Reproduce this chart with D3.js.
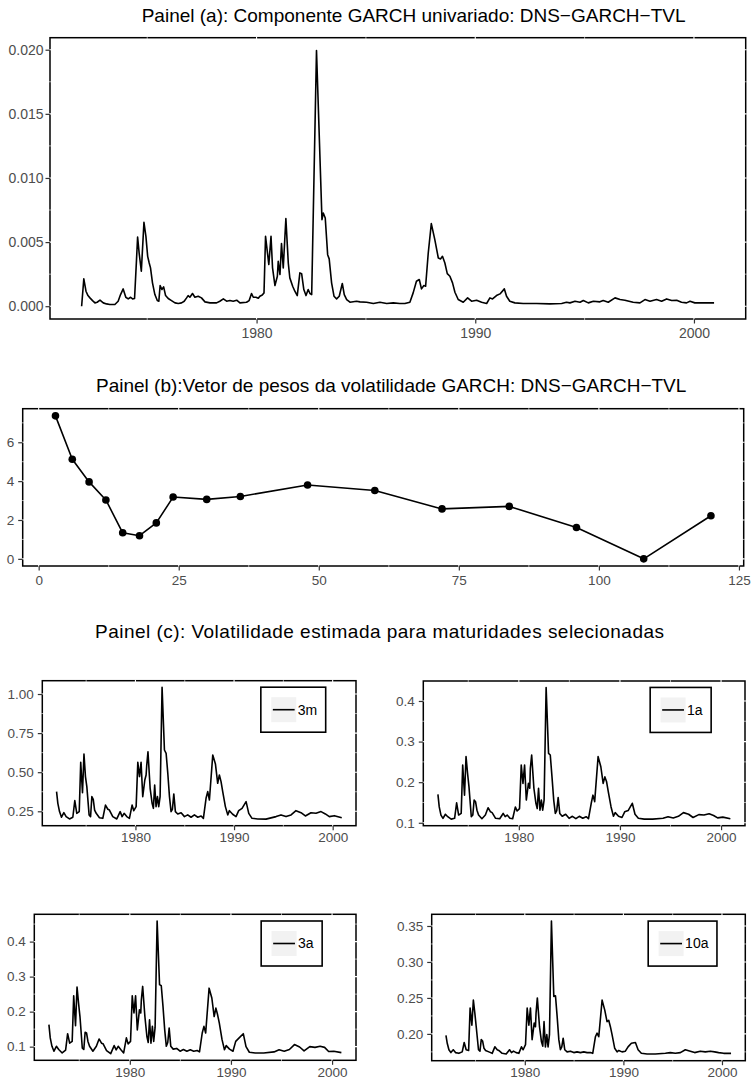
<!DOCTYPE html>
<html>
<head>
<meta charset="utf-8">
<script src="https://cdn.jsdelivr.net/npm/d3@7"></script>
<style>
  body { margin: 0; background: #fff; }
  svg { display: block; font-family: "Liberation Sans", Arial, Helvetica, sans-serif; }
</style>
</head>
<body>
<div id="chart"></div>
<script>
// painel (a): componente GARCH univariado, pares [ano, valor]
const garchComponent = [
  [1972.00, 0.0000], [1972.10, 0.00213], [1972.20, 0.00117], [1972.29, 0.00083], [1972.38, 0.00065],
  [1972.50, 0.00044], [1972.61, 0.00026], [1972.71, 0.00031], [1972.84, 0.00047], [1972.99, 0.00026],
  [1973.14, 0.00018], [1973.29, 0.00013], [1973.52, 0.00013], [1973.67, 0.00039], [1973.78, 0.00091],
  [1973.90, 0.00135], [1974.02, 0.00070], [1974.13, 0.00057], [1974.24, 0.00070], [1974.33, 0.00057],
  [1974.42, 0.00060], [1974.51, 0.00363], [1974.56, 0.00540], [1974.63, 0.00415], [1974.73, 0.00273],
  [1974.85, 0.00654], [1974.94, 0.00545], [1975.02, 0.00389], [1975.09, 0.00337], [1975.15, 0.00299],
  [1975.24, 0.00182], [1975.35, 0.00091], [1975.46, 0.00044], [1975.53, 0.00039], [1975.59, 0.00161],
  [1975.67, 0.00130], [1975.75, 0.00151], [1975.84, 0.00083], [1975.96, 0.00060], [1976.11, 0.00044],
  [1976.27, 0.00026], [1976.42, 0.00021], [1976.57, 0.00026], [1976.69, 0.00039], [1976.80, 0.00065],
  [1976.87, 0.00083], [1976.95, 0.00070], [1977.07, 0.00099], [1977.18, 0.00070], [1977.33, 0.00078],
  [1977.48, 0.00065], [1977.64, 0.00034], [1977.87, 0.00026], [1978.17, 0.00026], [1978.32, 0.00039],
  [1978.48, 0.00057], [1978.63, 0.00039], [1978.78, 0.00044], [1978.93, 0.00039], [1979.09, 0.00047],
  [1979.24, 0.00026], [1979.54, 0.00031], [1979.66, 0.00044], [1979.77, 0.00099], [1979.85, 0.00070],
  [1979.97, 0.00070], [1980.08, 0.00062], [1980.15, 0.00078], [1980.26, 0.00088], [1980.34, 0.00104],
  [1980.41, 0.00545], [1980.56, 0.00325], [1980.66, 0.00545], [1980.73, 0.00299], [1980.84, 0.00161],
  [1980.95, 0.00234], [1980.99, 0.00350], [1981.07, 0.00247], [1981.14, 0.00488], [1981.22, 0.00299],
  [1981.34, 0.00683], [1981.45, 0.00337], [1981.52, 0.00221], [1981.65, 0.00156], [1981.75, 0.00117],
  [1981.86, 0.00083], [1981.98, 0.00260], [1982.06, 0.00254], [1982.16, 0.00130], [1982.26, 0.00083],
  [1982.36, 0.00130], [1982.44, 0.00099], [1982.52, 0.00091], [1982.74, 0.01994], [1982.99, 0.00675],
  [1983.05, 0.00727], [1983.14, 0.00688], [1983.25, 0.00402], [1983.32, 0.00369], [1983.43, 0.00182],
  [1983.54, 0.00078], [1983.66, 0.00057], [1983.78, 0.00078], [1983.92, 0.00177], [1984.01, 0.00091],
  [1984.12, 0.00052], [1984.27, 0.00031], [1984.57, 0.00039], [1984.73, 0.00034], [1985.03, 0.00031],
  [1985.34, 0.00021], [1985.64, 0.00031], [1985.95, 0.00021], [1986.25, 0.00026], [1986.55, 0.00021],
  [1986.78, 0.00021], [1987.01, 0.00031], [1987.16, 0.00104], [1987.31, 0.00195], [1987.44, 0.00208],
  [1987.54, 0.00135], [1987.65, 0.00161], [1987.73, 0.00156], [1987.85, 0.00415], [1987.99, 0.00644],
  [1988.15, 0.00519], [1988.31, 0.00376], [1988.41, 0.00369], [1988.50, 0.00389], [1988.61, 0.00337],
  [1988.72, 0.00254], [1988.84, 0.00234], [1988.96, 0.00182], [1989.07, 0.00109], [1989.22, 0.00052],
  [1989.45, 0.00031], [1989.65, 0.00065], [1989.83, 0.00039], [1990.06, 0.00047], [1990.29, 0.00031],
  [1990.52, 0.00021], [1990.67, 0.00065], [1990.79, 0.00057], [1990.97, 0.00083], [1991.13, 0.00096],
  [1991.33, 0.00135], [1991.43, 0.00078], [1991.58, 0.00039], [1991.81, 0.00026], [1992.19, 0.00021],
  [1992.80, 0.00021], [1993.41, 0.00018], [1993.95, 0.00021], [1994.17, 0.00031], [1994.33, 0.00026],
  [1994.56, 0.00039], [1994.79, 0.00031], [1994.94, 0.00044], [1995.17, 0.00026], [1995.40, 0.00039],
  [1995.70, 0.00034], [1995.85, 0.00044], [1996.08, 0.00031], [1996.39, 0.00065], [1996.62, 0.00052],
  [1996.84, 0.00047], [1997.22, 0.00031], [1997.53, 0.00026], [1997.76, 0.00052], [1997.99, 0.00039],
  [1998.29, 0.00052], [1998.52, 0.00039], [1998.75, 0.00057], [1998.98, 0.00044], [1999.21, 0.00047],
  [1999.43, 0.00031], [1999.66, 0.00026], [1999.82, 0.00039], [2000.04, 0.00026], [2000.42, 0.00026],
  [2000.92, 0.00026]
];

// painel (b): vetor de pesos por maturidade (meses)
const maturities = [3, 6, 9, 12, 15, 18, 21, 24, 30, 36, 48, 60, 72, 84, 96, 108, 120];
const weights = [7.36, 5.13, 3.96, 3.03, 1.34, 1.19, 1.85, 3.18, 3.06, 3.21, 3.80, 3.52, 2.57, 2.70, 1.61, 0.0, 2.22];

// painel (c): datas comuns e volatilidade estimada por maturidade
const volDates = [
  1972.00, 1972.13, 1972.30, 1972.50, 1972.74, 1972.97, 1973.31, 1973.65, 1973.85, 1974.05,
  1974.30, 1974.45, 1974.63, 1974.78, 1974.93, 1975.07, 1975.30, 1975.45, 1975.58, 1975.72,
  1975.86, 1976.02, 1976.35, 1976.69, 1976.96, 1977.20, 1977.36, 1977.70, 1978.11, 1978.45,
  1978.65, 1978.85, 1979.12, 1979.39, 1979.66, 1979.83, 1980.07, 1980.24, 1980.41, 1980.57,
  1980.74, 1980.95, 1981.08, 1981.14, 1981.27, 1981.49, 1981.69, 1981.82, 1981.95, 1982.09,
  1982.23, 1982.36, 1982.50, 1982.70, 1982.94, 1983.11, 1983.28, 1983.45, 1983.61, 1983.75,
  1983.89, 1984.05, 1984.29, 1984.63, 1984.97, 1985.30, 1985.64, 1985.98, 1986.32, 1986.66,
  1986.89, 1987.16, 1987.33, 1987.50, 1987.84, 1988.11, 1988.34, 1988.51, 1988.68, 1988.85,
  1989.12, 1989.36, 1989.53, 1989.86, 1990.20, 1990.47, 1990.81, 1991.22, 1991.49, 1991.82,
  1992.40, 1993.24, 1994.26, 1994.76, 1995.27, 1995.78, 1996.28, 1996.79, 1997.23, 1997.80,
  1998.31, 1998.82, 1999.26, 1999.66, 2000.17, 2000.92
];
const vol3m = [
  0.376, 0.301, 0.248, 0.212, 0.241, 0.216, 0.201, 0.212, 0.318, 0.237,
  0.248, 0.563, 0.369, 0.616, 0.472, 0.408, 0.227, 0.216, 0.344, 0.327,
  0.258, 0.237, 0.209, 0.205, 0.290, 0.263, 0.258, 0.216, 0.201, 0.248,
  0.216, 0.237, 0.216, 0.205, 0.290, 0.254, 0.280, 0.563, 0.472, 0.563,
  0.344, 0.450, 0.482, 0.540, 0.631, 0.397, 0.301, 0.269, 0.418, 0.280,
  0.344, 0.280, 0.344, 1.043, 0.642, 0.621, 0.493, 0.344, 0.248, 0.263,
  0.361, 0.248, 0.233, 0.241, 0.216, 0.227, 0.212, 0.227, 0.212, 0.220,
  0.205, 0.333, 0.376, 0.322, 0.610, 0.553, 0.429, 0.482, 0.440, 0.376,
  0.280, 0.227, 0.254, 0.231, 0.216, 0.254, 0.269, 0.312, 0.237, 0.205,
  0.201, 0.200, 0.216, 0.227, 0.216, 0.227, 0.254, 0.241, 0.220, 0.241,
  0.237, 0.248, 0.233, 0.216, 0.222, 0.209
];
const vol1a = [
  0.170, 0.139, 0.119, 0.111, 0.121, 0.115, 0.109, 0.111, 0.149, 0.119,
  0.123, 0.242, 0.168, 0.263, 0.222, 0.189, 0.115, 0.119, 0.156, 0.152,
  0.131, 0.119, 0.110, 0.119, 0.137, 0.127, 0.125, 0.111, 0.110, 0.123,
  0.115, 0.119, 0.111, 0.110, 0.139, 0.129, 0.135, 0.242, 0.197, 0.242,
  0.156, 0.197, 0.185, 0.234, 0.267, 0.185, 0.148, 0.135, 0.185, 0.131,
  0.156, 0.131, 0.156, 0.433, 0.271, 0.267, 0.213, 0.156, 0.123, 0.130,
  0.162, 0.123, 0.116, 0.121, 0.111, 0.116, 0.110, 0.116, 0.111, 0.115,
  0.110, 0.148, 0.168, 0.152, 0.263, 0.238, 0.197, 0.213, 0.201, 0.176,
  0.139, 0.116, 0.125, 0.116, 0.113, 0.127, 0.130, 0.148, 0.121, 0.111,
  0.109, 0.109, 0.111, 0.115, 0.112, 0.116, 0.125, 0.121, 0.113, 0.120,
  0.119, 0.122, 0.118, 0.112, 0.114, 0.110
];
const vol3a = [
  0.163, 0.125, 0.101, 0.087, 0.101, 0.092, 0.082, 0.090, 0.137, 0.110,
  0.115, 0.245, 0.160, 0.270, 0.224, 0.186, 0.096, 0.092, 0.141, 0.139,
  0.115, 0.101, 0.087, 0.101, 0.122, 0.110, 0.108, 0.089, 0.080, 0.103,
  0.091, 0.101, 0.091, 0.082, 0.125, 0.108, 0.115, 0.245, 0.196, 0.245,
  0.148, 0.205, 0.196, 0.234, 0.272, 0.186, 0.129, 0.112, 0.177, 0.110,
  0.158, 0.115, 0.155, 0.459, 0.277, 0.274, 0.215, 0.148, 0.101, 0.112,
  0.153, 0.101, 0.093, 0.095, 0.087, 0.092, 0.087, 0.091, 0.087, 0.089,
  0.085, 0.139, 0.158, 0.139, 0.267, 0.239, 0.186, 0.210, 0.191, 0.167,
  0.120, 0.091, 0.103, 0.093, 0.087, 0.115, 0.125, 0.137, 0.100, 0.084,
  0.082, 0.082, 0.085, 0.091, 0.087, 0.092, 0.106, 0.099, 0.088, 0.100,
  0.098, 0.101, 0.098, 0.086, 0.087, 0.083
];
const vol10a = [
  0.198, 0.187, 0.178, 0.174, 0.178, 0.174, 0.173, 0.175, 0.188, 0.178,
  0.177, 0.236, 0.212, 0.247, 0.229, 0.210, 0.178, 0.176, 0.192, 0.190,
  0.180, 0.177, 0.175, 0.173, 0.182, 0.178, 0.177, 0.173, 0.172, 0.178,
  0.174, 0.176, 0.174, 0.173, 0.182, 0.178, 0.185, 0.236, 0.212, 0.236,
  0.192, 0.215, 0.210, 0.229, 0.250, 0.210, 0.189, 0.183, 0.217, 0.182,
  0.199, 0.182, 0.199, 0.357, 0.252, 0.253, 0.224, 0.192, 0.178, 0.182,
  0.194, 0.178, 0.175, 0.176, 0.174, 0.175, 0.174, 0.175, 0.174, 0.174,
  0.173, 0.196, 0.201, 0.196, 0.247, 0.233, 0.217, 0.219, 0.210, 0.199,
  0.180, 0.175, 0.177, 0.175, 0.176, 0.182, 0.187, 0.188, 0.178, 0.173,
  0.172, 0.172, 0.173, 0.174, 0.173, 0.174, 0.178, 0.176, 0.174, 0.176,
  0.175, 0.176, 0.175, 0.174, 0.173, 0.173
];

// tick labels
const yearTicks = [1980, 1990, 2000];
const garchTicks = [0, 0.005, 0.010, 0.015, 0.020];
const maturityTicks = [0, 25, 50, 75, 100, 125];
const weightTicks = [0, 2, 4, 6];
const ticks3m = [0.25, 0.50, 0.75, 1.00];
const ticks1a = [0.1, 0.2, 0.3, 0.4];
const ticks3a = [0.1, 0.2, 0.3, 0.4];
const ticks10a = [0.20, 0.25, 0.30, 0.35];

const width = 753;
const height = 1081;

const svg = d3.select("#chart").append("svg")
    .attr("width", width)
    .attr("height", height);

svg.append("rect").attr("width", width).attr("height", height).attr("fill", "#fff");

// ggplot style: 5% padding on each side of the data range
function expand(ext) {
    const pad = (ext[1] - ext[0]) * 0.05;
    return [ext[0] - pad, ext[1] + pad];
}

// minor grid positions halfway between majors
function minorBreaks(major, domain) {
    const step = major[1] - major[0];
    const out = [];
    for (let i = -1; i <= major.length; i++) {
        const v = major[0] + step * (i + 0.5);
        if (v > domain[0] && v < domain[1]) out.push(v);
    }
    return out;
}

function styleAxis(sel, fontSize) {
    sel.select(".domain").remove();
    sel.selectAll(".tick line").attr("stroke", "#333333").attr("stroke-width", 1.2);
    sel.selectAll(".tick text")
        .attr("fill", "#4d4d4d")
        .style("font-size", fontSize + "px")
        .style("font-family", "'Liberation Sans', Arial, sans-serif");
}

function drawTitle(text, x, baseline, len) {
    const t = svg.append("text")
        .attr("x", x)
        .attr("y", baseline)
        .style("font-size", "19px")
        .style("font-weight", "normal")
        .attr("fill", "#000")
        .text(text);
    if (len) t.attr("textLength", len).attr("lengthAdjust", "spacing");
}

function drawPanel(cfg) {
    const b = cfg.box;
    const xDomain = expand(d3.extent(cfg.data, d => d[0]));
    const yDomain = expand(d3.extent(cfg.data, d => d[1]));
    const x = d3.scaleLinear().domain(xDomain).range([b.left, b.right]);
    const y = d3.scaleLinear().domain(yDomain).range([b.bottom, b.top]);
    const g = svg.append("g");

    // panel border
    g.append("rect")
        .attr("x", b.left)
        .attr("y", b.top)
        .attr("width", b.right - b.left)
        .attr("height", b.bottom - b.top)
        .attr("fill", "none")
        .attr("stroke", "#000")
        .attr("stroke-width", 1.5);

    // white grid, only visible where it crosses the border
    const grid = g.append("g").attr("stroke", "#fff");
    const xMinor = minorBreaks(cfg.xTicks, xDomain);
    const yMinor = minorBreaks(cfg.yTicks, yDomain);
    grid.selectAll(".vx").data(cfg.xTicks.concat(xMinor)).enter()
        .append("line")
            .attr("x1", d => x(d)).attr("x2", d => x(d))
            .attr("y1", b.top - 1).attr("y2", b.bottom + 1)
            .attr("stroke-width", (d, i) => i < cfg.xTicks.length ? 1.1 : 0.6);
    grid.selectAll(".hy").data(cfg.yTicks.concat(yMinor)).enter()
        .append("line")
            .attr("y1", d => y(d)).attr("y2", d => y(d))
            .attr("x1", b.left - 1).attr("x2", b.right + 1)
            .attr("stroke-width", (d, i) => i < cfg.yTicks.length ? 1.1 : 0.6);

    // axes
    const xAxis = d3.axisBottom(x)
        .tickValues(cfg.xTicks)
        .tickFormat(cfg.xFormat)
        .tickSizeInner(4.5).tickSizeOuter(0).tickPadding(cfg.xPad);
    g.append("g")
        .attr("transform", "translate(0," + b.bottom + ")")
        .call(xAxis)
        .call(styleAxis, cfg.fontSize);

    const yAxis = d3.axisLeft(y)
        .tickValues(cfg.yTicks)
        .tickFormat(cfg.yFormat)
        .tickSizeInner(4.5).tickSizeOuter(0).tickPadding(cfg.yPad);
    g.append("g")
        .attr("transform", "translate(" + b.left + ",0)")
        .call(yAxis)
        .call(styleAxis, cfg.fontSize);

    // series line
    const line = d3.line().x(d => x(d[0])).y(d => y(d[1]));
    g.append("path")
        .datum(cfg.data)
        .attr("d", line)
        .attr("fill", "none")
        .attr("stroke", "#000")
        .attr("stroke-width", 1.6)
        .attr("stroke-linejoin", "round");

    if (cfg.points) {
        g.selectAll(".dot").data(cfg.data).enter()
            .append("circle")
                .attr("class", "dot")
                .attr("r", 3.8)
                .attr("cx", d => x(d[0]))
                .attr("cy", d => y(d[1]))
                .attr("fill", "#000");
    }

    if (cfg.legend) drawLegend(g, cfg.legend, b);
}

// legend placed inside the panel at (0.8, 0.8)
function drawLegend(g, label, b) {
    const fontSize = 14;
    const leg = g.append("g");
    const txt = leg.append("text")
        .style("font-size", fontSize + "px")
        .attr("fill", "#000")
        .attr("dy", "0.35em")
        .text(label);
    const textW = txt.node().getComputedTextLength();
    const boxW = 10.4 + 25 + 1.5 + textW + 8.5;
    const boxH = 45;
    const cx = b.left + 0.8 * (b.right - b.left);
    const cy = b.top + 0.2 * (b.bottom - b.top);
    const x0 = cx - boxW / 2;
    const y0 = cy - boxH / 2;

    leg.insert("rect", "text")
        .attr("x", x0).attr("y", y0)
        .attr("width", boxW).attr("height", boxH)
        .attr("fill", "#fff")
        .attr("stroke", "#000")
        .attr("stroke-width", 1.6);
    leg.insert("rect", "text")
        .attr("x", x0 + 10.4).attr("y", cy - 12.5)
        .attr("width", 25).attr("height", 25)
        .attr("fill", "#f2f2f2");
    leg.insert("line", "text")
        .attr("x1", x0 + 12).attr("x2", x0 + 33.8)
        .attr("y1", cy).attr("y2", cy)
        .attr("stroke", "#000")
        .attr("stroke-width", 1.6);
    txt.attr("x", x0 + 10.4 + 25 + 1.5).attr("y", cy);
}

const fmtYear = d3.format("d");

// painel (a)
drawTitle("Painel (a): Componente GARCH univariado: DNS\u2212GARCH\u2212TVL", 141.7, 21.7);
drawPanel({
    box: {left: 50, top: 37.7, right: 745.7, bottom: 319},
    data: garchComponent,
    xTicks: yearTicks, xFormat: fmtYear,
    yTicks: garchTicks, yFormat: d3.format(".3f"),
    fontSize: 14, xPad: 4.5, yPad: 2
});

// painel (b)
drawTitle("Painel (b):Vetor de pesos da volatilidade GARCH: DNS\u2212GARCH\u2212TVL", 96, 391.7);
drawPanel({
    box: {left: 22.7, top: 408.7, right: 743.7, bottom: 566},
    data: maturities.map((m, i) => [m, weights[i]]),
    xTicks: maturityTicks, xFormat: d3.format("d"),
    yTicks: weightTicks, yFormat: d3.format("d"),
    fontSize: 13.5, xPad: 4.5, yPad: 4,
    points: true
});

// painel (c)
drawTitle("Painel (c): Volatilidade estimada para maturidades selecionadas", 95, 638, 569);

const cPanels = [
    {box: {left: 42.3, top: 680.7, right: 356, bottom: 825.7}, values: vol3m, ticks: ticks3m, fmt: ".2f", label: "3m"},
    {box: {left: 423.3, top: 681, right: 745, bottom: 825.7}, values: vol1a, ticks: ticks1a, fmt: ".1f", label: "1a"},
    {box: {left: 34.3, top: 914.3, right: 356, bottom: 1060.3}, values: vol3a, ticks: ticks3a, fmt: ".1f", label: "3a"},
    {box: {left: 431.7, top: 914.3, right: 745.3, bottom: 1060.7}, values: vol10a, ticks: ticks10a, fmt: ".2f", label: "10a"}
];

cPanels.forEach(function(p) {
    drawPanel({
        box: p.box,
        data: volDates.map((d, i) => [d, p.values[i]]),
        xTicks: yearTicks, xFormat: fmtYear,
        yTicks: p.ticks, yFormat: d3.format(p.fmt),
        fontSize: 13.5, xPad: 2.5, yPad: 4,
        legend: p.label
    });
});
</script>
</body>
</html>
